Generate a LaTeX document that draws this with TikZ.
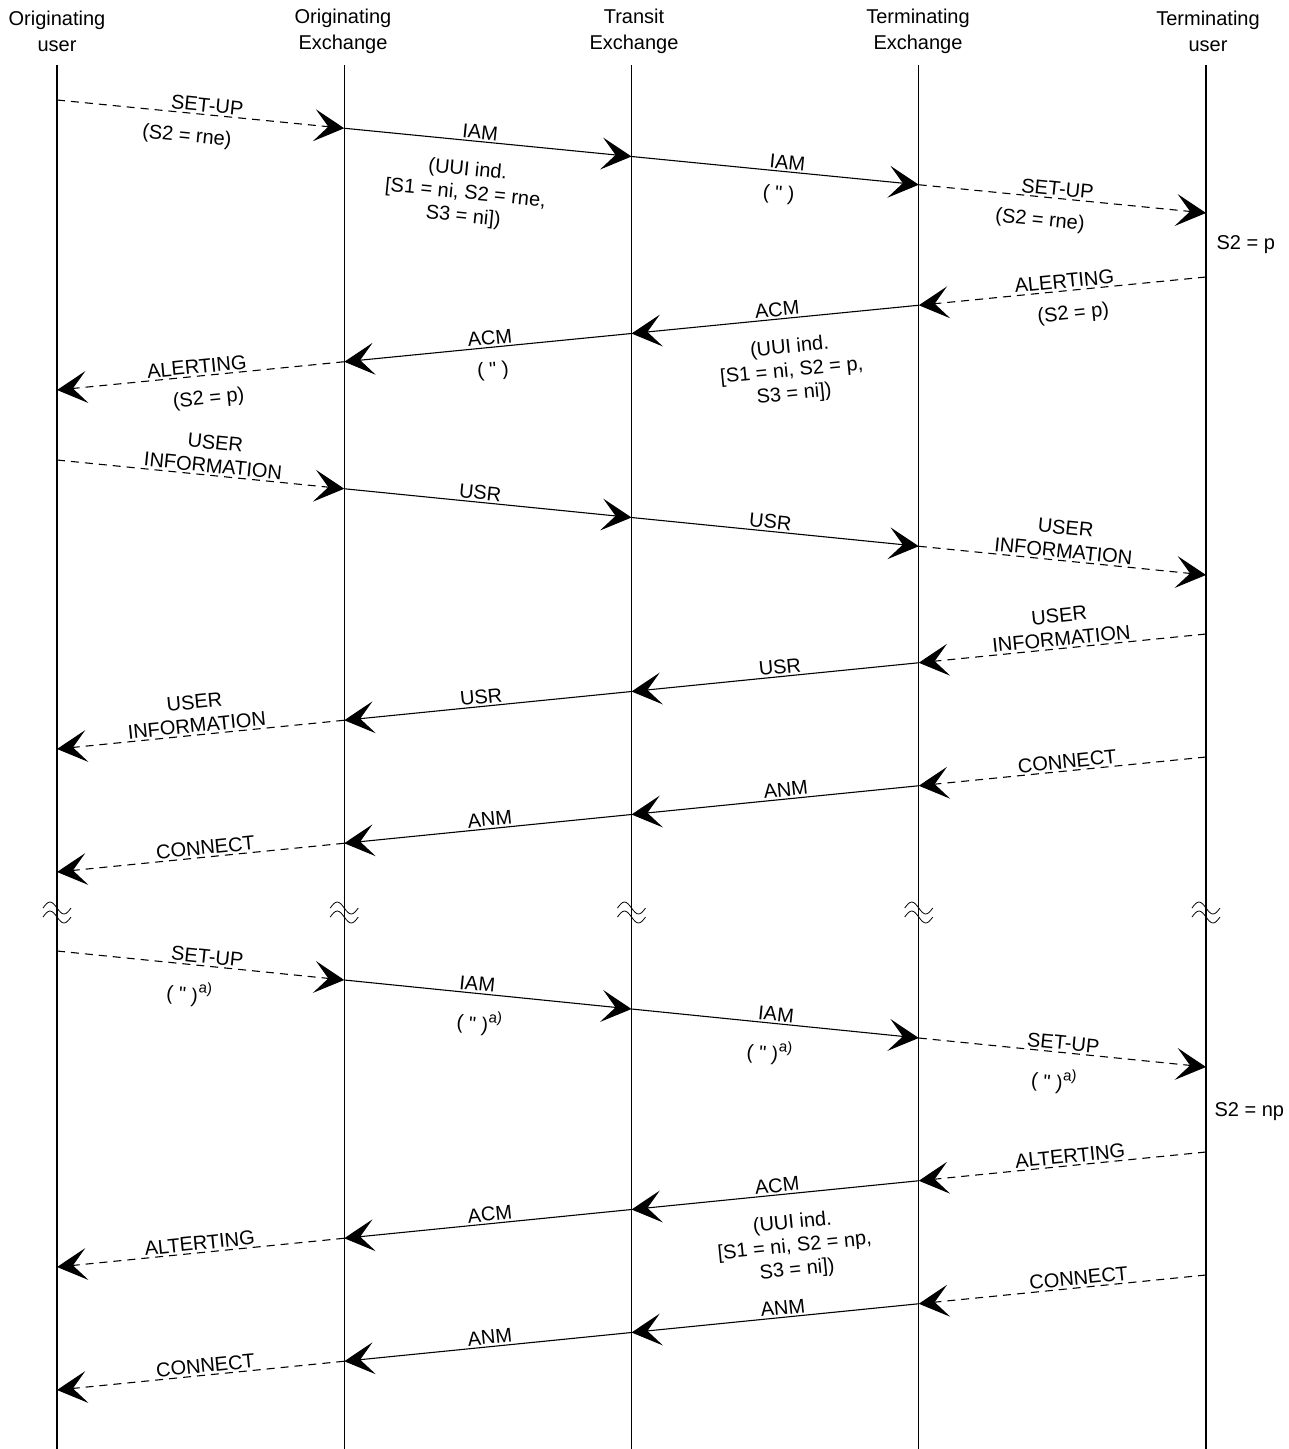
\documentclass[tikz,border=0pt]{standalone}
\usepackage{fontspec}
\setmainfont{Liberation Sans}
\newfontfamily\qfont{Liberation Sans}[Ligatures=TeXOff]
\usetikzlibrary{arrows.meta}
\newcommand\mysupa{\raisebox{0.5em}{\fontsize{15}{15}\selectfont a)}}
\newcommand\myq{( {\qfont"} )}
\begin{document}
\begin{tikzpicture}[x=1pt,y=-1pt,
  every node/.style={font=\fontsize{20}{23.5}\selectfont},
  title/.style={align=center,font=\fontsize{20}{26}\selectfont},
  life/.style={line width=1.3pt},
  smsg/.style={line width=1.1pt,-{Stealth[length=30pt,width=32pt,inset=14pt]}},
  dmsg/.style={smsg,dash pattern=on 8pt off 6pt},
  lab/.style={sloped,align=center,inner sep=2pt},
  ab/.style={lab,above},
  be/.style={lab,below=12pt},
  bq/.style={lab,below=14pt},
  bu/.style={lab,below=18pt},
  brk/.pic={\draw[line width=0.8pt] (-14,-2) sin (-7,-8) cos (0,-2) sin (7,4) cos (14,-2);
            \draw[line width=0.8pt] (-14,7) sin (-7,1) cos (0,7) sin (7,13) cos (14,7);}
]
\useasboundingbox (0,0) rectangle (1289,1449);
% headers
\node[title] (h1) at (57,31) {Originating\\user};
\node[title] (h2) at (343,31) {Originating\\Exchange};
\node[title] (h3) at (634,31) {Transit\\Exchange};
\node[title] (h4) at (918,31) {Terminating\\Exchange};
\node[title] (h5) at (1208,31) {Terminating\\user};
% lifelines
\foreach \i in {1,...,5}{
  \coordinate (L\i) at ({57+287.25*(\i-1)},65);
  \coordinate (Lb\i) at ({57+287.25*(\i-1)},1449);
  \draw[life] (L\i) -- (Lb\i);
  \pic at ({57+287.25*(\i-1)},910) {brk};
}
% message end points
\foreach \c/\y/\s in {A/100/28.25, C/460/28.75, F/951/29}{
  \foreach \i in {1,...,5}{\coordinate (\c\i) at ({57+287.25*(\i-1)},{\y+\s*(\i-1)});}}
\foreach \c/\y/\s in {B/277/28.25, D/634/28.75, E/757/28.75, G/1152/28.75, H/1275/28.75}{
  \foreach \i in {1,...,5}{\coordinate (\c\i) at ({57+287.25*(\i-1)},{\y+\s*(5-\i)});}}
% A
\draw[dmsg] (A1) -- node[ab,pos=.52]{SET-UP} node[be,pos=.46]{(S2 = rne)} (A2);
\draw[smsg] (A2) -- node[ab,pos=.47]{IAM} node[bu,pos=.44]{(UUI ind.\\{[}S1 = ni, S2 = rne,\\S3 = ni])} (A3);
\draw[smsg] (A3) -- node[ab,pos=.54]{IAM} node[be,pos=.52]{\myq} (A4);
\draw[dmsg] (A4) -- node[ab,pos=.48]{SET-UP} node[be,pos=.43]{(S2 = rne)} (A5);
\node[anchor=west] (s2p) at (1213,245) {S2 = p};
% B
\draw[dmsg] (B5) -- node[ab,pos=.49]{ALERTING} node[be,pos=.47]{(S2 = p)} (B4);
\draw[smsg] (B4) -- node[ab,pos=.49]{ACM} node[bu,pos=.46]{(UUI ind.\\{[}S1 = ni, S2 = p,\\S3 = ni])} (B3);
\draw[smsg] (B3) -- node[ab,pos=.49]{ACM} node[be,pos=.49]{\myq} (B2);
\draw[dmsg] (B2) -- node[ab,pos=.51]{ALERTING} node[be,pos=.48]{(S2 = p)} (B1);
% C
\draw[dmsg] (C1) -- node[ab,pos=.54]{USER\\INFORMATION} (C2);
\draw[smsg] (C2) -- node[ab,pos=.47]{USR} (C3);
\draw[smsg] (C3) -- node[ab,pos=.48]{USR} (C4);
\draw[dmsg] (C4) -- node[ab,pos=.5]{USER\\INFORMATION} (C5);
% D
\draw[dmsg] (D5) -- node[ab,pos=.5]{USER\\INFORMATION} (D4);
\draw[smsg] (D4) -- node[ab,pos=.48]{USR} (D3);
\draw[smsg] (D3) -- node[ab,pos=.52]{USR} (D2);
\draw[dmsg] (D2) -- node[ab,pos=.51]{USER\\INFORMATION} (D1);
% E
\draw[dmsg] (E5) -- node[ab,pos=.48]{CONNECT} (E4);
\draw[smsg] (E4) -- node[ab,pos=.46]{ANM} (E3);
\draw[smsg] (E3) -- node[ab,pos=.49]{ANM} (E2);
\draw[dmsg] (E2) -- node[ab,pos=.48]{CONNECT} (E1);
% F
\draw[dmsg] (F1) -- node[ab,pos=.52]{SET-UP} node[bq,pos=.47]{\myq\mysupa} (F2);
\draw[smsg] (F2) -- node[ab,pos=.46]{IAM} node[bq,pos=.48]{\myq\mysupa} (F3);
\draw[smsg] (F3) -- node[ab,pos=.5]{IAM} node[bq,pos=.49]{\myq\mysupa} (F4);
\draw[dmsg] (F4) -- node[ab,pos=.5]{SET-UP} node[bq,pos=.48]{\myq\mysupa} (F5);
\node[anchor=west] (s2np) at (1211,1112) {S2 = np};
% G
\draw[dmsg] (G5) -- node[ab,pos=.47]{ALTERTING} (G4);
\draw[smsg] (G4) -- node[ab,pos=.49]{ACM} node[bu,pos=.45]{(UUI ind.\\{[}S1 = ni, S2 = np,\\S3 = ni])} (G3);
\draw[smsg] (G3) -- node[ab,pos=.49]{ACM} (G2);
\draw[dmsg] (G2) -- node[ab,pos=.5]{ALTERTING} (G1);
% H
\draw[dmsg] (H5) -- node[ab,pos=.44]{CONNECT} (H4);
\draw[smsg] (H4) -- node[ab,pos=.47]{ANM} (H3);
\draw[smsg] (H3) -- node[ab,pos=.49]{ANM} (H2);
\draw[dmsg] (H2) -- node[ab,pos=.48]{CONNECT} (H1);
\end{tikzpicture}
\end{document}
